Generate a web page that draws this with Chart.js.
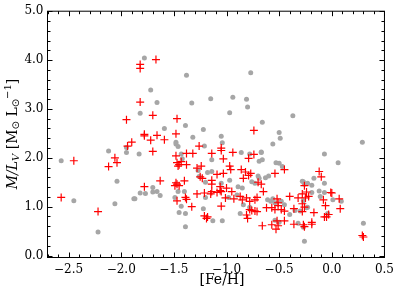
<!DOCTYPE html>
<html>
<head>
<meta charset="utf-8">
<script src="https://cdn.jsdelivr.net/npm/chart.js@4"></script>
<style>
  html, body { margin: 0; padding: 0; background: #fff; }
  #chart { display: block; }
</style>
</head>
<body>
<canvas id="chart" width="399" height="299"></canvas>
<script>
// grey dots: [Fe/H] and M/L_V
const greyFeH = [-1.78, -1.72, -1.66, -1.82, -2.12, -1.95, -1.95, -1.83, -2.57, -2.04, -2.45, -2.06, -1.88, -2.22,
  -1.38, -0.77, -1.33, -1.15, -0.94, -0.81, -0.80, -0.97, -0.66, -1.39, -1.59, -1.22, -1.32, -1.05, -1.48, -1.48,
  -1.46, -1.04, -1.21, -0.37, -0.50, -0.49, -0.56, 0.29, -0.67, -1.43, -1.14, -1.42, -1.27, -1.26, -1.18, -1.14,
  -1.20, -1.70, -1.66, -1.70, -1.82, -1.77, -1.63, -1.87, -1.40, -1.46, -1.20, -1.49, -1.43, -1.22, -1.45, -1.39,
  -1.13, -1.39, -1.04, -0.86, -0.78, -0.67, -0.69, -0.66, -0.53, -0.50, -0.47, -0.70, -0.69, -0.63, -0.60, -0.97,
  -0.76, -0.73, -0.89, -0.85, -1.05, -0.90, -0.98, -0.84, -0.78, -0.87, -0.61, -0.58, -0.56, -0.54, -0.48, -0.45,
  -0.40, -0.35, -0.30, -0.54, -0.50, -0.32, -0.27, -0.26, -0.26, -0.07, 0.06, -0.28, -0.23, -0.17, -0.19, -0.12,
  -0.19, -0.07, -0.11, 0.01, 0.09, -0.27, -0.24, -0.23, -0.04, -0.27, 0.30, -0.07];
const greyML = [4.04, 3.39, 3.13, 2.91, 2.14, 2.21, 2.11, 2.08, 1.94, 1.52, 1.12, 1.06, 1.16, 0.48,
  3.69, 3.74, 3.12, 3.21, 3.24, 3.20, 3.04, 2.92, 2.73, 2.66, 2.60, 2.58, 2.42, 2.44, 2.32, 2.28,
  2.23, 2.31, 2.24, 2.86, 2.52, 2.40, 2.28, 2.32, 2.12, 2.08, 1.96, 1.98, 1.74, 1.62, 1.70, 1.72,
  1.50, 1.39, 1.31, 1.30, 1.28, 1.27, 1.23, 1.16, 1.31, 1.31, 1.19, 1.19, 1.01, 0.96, 0.88, 0.86,
  0.71, 0.59, 0.71, 2.11, 2.08, 2.11, 1.93, 1.96, 1.90, 1.89, 1.82, 1.63, 1.58, 1.59, 1.63, 1.54,
  1.51, 1.48, 1.41, 1.38, 1.48, 1.24, 1.19, 1.04, 0.99, 0.86, 1.14, 1.11, 1.16, 1.08, 1.11, 1.04,
  0.84, 0.92, 0.91, 0.72, 0.68, 0.66, 1.51, 1.46, 0.29, 2.08, 1.90, 1.52, 1.48, 1.58, 1.44, 1.32,
  1.29, 1.29, 1.21, 1.14, 1.11, 1.12, 0.98, 0.99, 0.86, 0.58, 0.66, 1.48];

// red crosses: [Fe/H] and M/L_V
const redFeH = [-1.67, -1.82, -1.82, -1.82, -1.70, -1.95, -1.94, -1.90, -2.45, -2.06, -2.04, -2.12, -2.57, -2.22,
  -1.47, -0.74, -1.78, -1.78, -1.66, -1.48, -1.72, -1.59, -1.26, -1.05, -1.05, -1.70, -1.48, -1.38, -1.32, -1.14,
  -1.47, -1.45, -1.43, -1.38, -1.46, -1.28, -1.24, -1.25, -1.23, -1.09, -1.14, -1.14, -1.78, -1.63, -1.48, -1.47,
  -1.45, -1.40, -1.49, -1.28, -1.21, -1.15, -1.14, -1.09, -1.06, -1.47, -1.39, -1.38, -1.33, -1.21, -1.18, -1.19,
  -1.05, -0.94, -0.79, -0.74, -0.54, -0.45, -1.03, -0.97, -0.96, -1.03, -0.86, -0.82, -0.79, -0.77, -0.84, -0.70,
  -0.67, -0.65, -1.06, -1.05, -1.00, -1.01, -0.95, -0.93, -0.87, -0.85, -0.81, -0.78, -0.73, -0.71, -0.78, -0.76,
  -0.73, -0.71, -0.81, -0.80, -0.62, -0.57, -0.54, -0.51, -0.48, -0.45, -0.52, -0.51, -0.40, -0.36, -0.32, -0.25,
  -0.45, -0.52, -0.51, -0.57, -0.53, -0.66, -0.36, -0.27, -0.26, -0.12, -0.10, -0.26, -0.24, -0.28, -0.22, -0.01,
  0.07, 0.08, -0.08, -0.06, -0.28, -0.26, -0.28, -0.17, -0.03, -0.07, -0.05, -0.19, -0.19, 0.29, 0.30, 0.00];
const redML = [4.01, 3.91, 3.83, 3.14, 2.87, 2.78, 2.24, 2.32, 1.94, 2.00, 1.90, 1.82, 1.19, 0.90,
  2.80, 2.56, 2.48, 2.45, 2.46, 2.49, 2.36, 2.37, 2.24, 2.20, 2.15, 2.13, 2.04, 2.09, 2.09, 2.09,
  1.90, 1.86, 1.92, 1.86, 1.83, 1.79, 1.83, 1.61, 1.58, 1.66, 1.54, 1.46, 1.41, 1.53, 1.49, 1.46,
  1.43, 1.53, 1.43, 1.26, 1.28, 1.26, 1.31, 1.29, 1.33, 1.12, 1.19, 1.15, 1.00, 0.81, 0.79, 0.76,
  1.01, 2.11, 1.99, 2.07, 1.68, 1.76, 1.98, 1.83, 1.76, 1.68, 1.76, 1.71, 1.64, 1.68, 1.58, 1.50,
  1.46, 1.31, 1.41, 1.31, 1.38, 1.18, 1.31, 1.16, 1.21, 1.14, 1.18, 1.11, 1.14, 1.19, 0.94, 0.92,
  0.91, 0.90, 0.83, 0.76, 0.98, 0.98, 0.94, 1.02, 0.94, 0.91, 1.16, 1.08, 1.21, 0.96, 1.18, 1.18,
  0.71, 0.71, 0.61, 0.63, 0.54, 0.61, 0.64, 0.63, 0.59, 1.72, 1.61, 1.43, 1.30, 1.26, 1.21, 1.29,
  1.16, 0.96, 1.14, 1.02, 1.06, 0.99, 0.90, 0.88, 0.84, 0.79, 0.79, 0.68, 0.64, 0.41, 0.38, 1.28];

const xTicks = [-2.5, -2.0, -1.5, -1.0, -0.5, 0.0, 0.5];
const yTicks = [0.0, 1.0, 2.0, 3.0, 4.0, 5.0];

const SERIF = "'DejaVu Serif', 'Liberation Serif', serif";

function toPoints(xs, ys) {
  return xs.map((x, i) => ({ x: x, y: ys[i] }));
}

function fmt(v) {
  return v.toFixed(1).replace("-", "\u2212");
}

// cadre, graduations vers l'intérieur et titres des axes
const framePlugin = {
  id: "frame",
  afterDraw(chart) {
    const ctx = chart.ctx;
    const a = chart.chartArea;
    const xs = chart.scales.x;
    const ys = chart.scales.y;
    ctx.save();
    ctx.strokeStyle = "#000";
    ctx.lineWidth = 1;
    ctx.strokeRect(a.left, a.top, a.right - a.left, a.bottom - a.top);

    ctx.beginPath();
    // x: majeures tous les 0.5, mineures tous les 0.1
    for (let i = Math.ceil(xs.min * 10); i <= Math.floor(xs.max * 10); i++) {
      const px = Math.round(xs.getPixelForValue(i / 10)) + 0.5;
      const len = i % 5 === 0 ? 5 : 3;
      ctx.moveTo(px, a.bottom);
      ctx.lineTo(px, a.bottom - len);
      ctx.moveTo(px, a.top);
      ctx.lineTo(px, a.top + len);
    }
    // y: majeures tous les 1, mineures tous les 0.2
    for (let i = Math.ceil(ys.min * 5); i <= Math.floor(ys.max * 5); i++) {
      const py = Math.round(ys.getPixelForValue(i / 5)) + 0.5;
      const len = i % 5 === 0 ? 5 : 3;
      ctx.moveTo(a.left, py);
      ctx.lineTo(a.left + len, py);
      ctx.moveTo(a.right, py);
      ctx.lineTo(a.right - len, py);
    }
    ctx.stroke();

    // titre x
    ctx.fillStyle = "#000";
    ctx.font = "14px " + SERIF;
    ctx.textAlign = "center";
    ctx.textBaseline = "middle";
    ctx.fillText("[Fe/H]", 222, 280);

    // titre y : M/L_V [M⊙ L⊙^-1]
    const parts = [
      { t: "M/L", f: "italic 14px " + SERIF, dy: 0 },
      { t: "V", f: "italic 10px " + SERIF, dy: 3 },
      { t: " [M", f: "14px " + SERIF, dy: 0 },
      { t: "\u2299", f: "10px 'DejaVu Sans', sans-serif", dy: 3 },
      { t: " L", f: "14px " + SERIF, dy: 0 },
      { t: "\u2299", f: "10px 'DejaVu Sans', sans-serif", dy: 3 },
      { t: "\u22121", f: "10px " + SERIF, dy: -5 },
      { t: "]", f: "14px " + SERIF, dy: 0 },
    ];
    let total = 0;
    parts.forEach((p) => {
      ctx.font = p.f;
      p.w = ctx.measureText(p.t).width;
      total += p.w;
    });
    ctx.translate(13, 134);
    ctx.rotate(-Math.PI / 2);
    ctx.textAlign = "left";
    let cx = -total / 2;
    parts.forEach((p) => {
      ctx.font = p.f;
      ctx.fillText(p.t, cx, p.dy);
      cx += p.w;
    });
    ctx.restore();
  },
};

const ctx = document.getElementById("chart").getContext("2d");
const chart = new Chart(ctx, {
  type: "scatter",
  data: {
    datasets: [
      {
        data: toPoints(redFeH, redML),
        pointStyle: "cross",
        pointRadius: 4,
        pointHoverRadius: 4,
        borderColor: "#ff0000",
        backgroundColor: "#ff0000",
        pointBorderWidth: 1.2,
        order: 0,
      },
      {
        data: toPoints(greyFeH, greyML),
        pointStyle: "circle",
        pointRadius: 2.5,
        pointHoverRadius: 2.5,
        borderWidth: 0,
        pointBorderWidth: 0,
        backgroundColor: "#a6a6a6",
        order: 1,
      },
    ],
  },
  options: {
    responsive: false,
    animation: false,
    devicePixelRatio: 1,
    layout: { padding: { top: 5.5, right: 11, left: 0, bottom: 0 } },
    plugins: {
      legend: { display: false },
      tooltip: { enabled: false },
    },
    scales: {
      x: {
        type: "linear",
        min: -2.7,
        max: 0.5,
        afterBuildTicks: (scale) => {
          scale.ticks = xTicks.map((v) => ({ value: v }));
        },
        afterFit: (scale) => {
          scale.height = 41.5;
        },
        grid: { display: false, drawTicks: false },
        border: { display: false },
        ticks: {
          padding: 5,
          color: "#000",
          font: { family: SERIF, size: 12 },
          maxRotation: 0,
          callback: (v) => fmt(v),
        },
      },
      y: {
        type: "linear",
        min: -0.04,
        max: 5.0,
        afterBuildTicks: (scale) => {
          scale.ticks = yTicks.map((v) => ({ value: v }));
        },
        afterFit: (scale) => {
          scale.width = 47.5;
        },
        grid: { display: false, drawTicks: false },
        border: { display: false },
        ticks: {
          padding: 4,
          color: "#000",
          font: { family: SERIF, size: 12 },
          callback: (v) => fmt(v),
        },
      },
    },
  },
  plugins: [framePlugin],
});
</script>
</body>
</html>
